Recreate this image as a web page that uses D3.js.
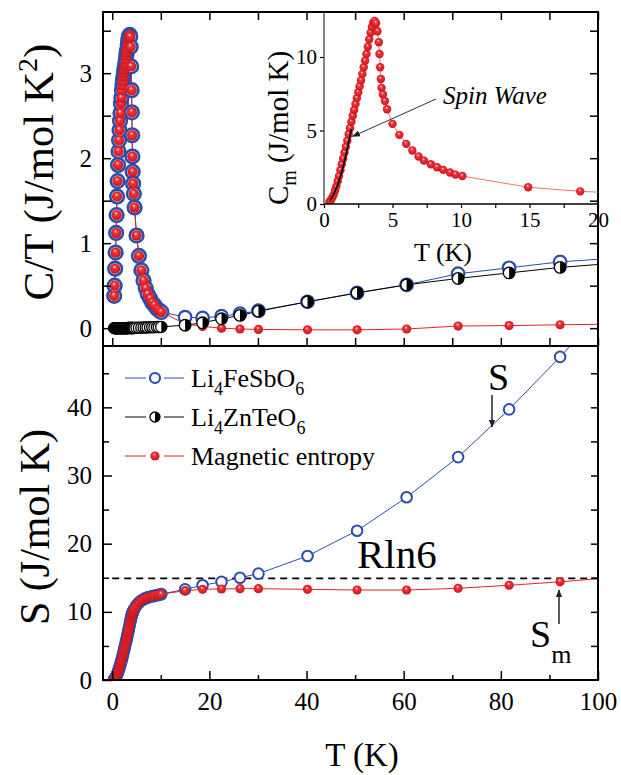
<!DOCTYPE html>
<html>
<head>
<meta charset="utf-8">
<script src="https://cdn.jsdelivr.net/npm/d3@7"></script>
<style>
  body { margin: 0; background: #fff; }
  text { font-family: "Liberation Serif", "Times New Roman", serif; fill: #000; }
</style>
</head>
<body>
<div id="chart"></div>
<script>
// ---- data ----
// low temperature sweep, shared by all the dense curves
const tLow = [0.4, 0.5, 0.6, 0.7, 0.8, 0.9, 1.0, 1.1, 1.2, 1.3, 1.4, 1.5, 1.6, 1.7, 1.8, 1.9, 2.0, 2.1, 2.2, 2.3,
  2.4, 2.5, 2.6, 2.7, 2.8, 2.9, 3.0, 3.1, 3.2, 3.3, 3.4, 3.5, 3.6, 3.7,
  3.8, 3.9, 4.0, 4.05, 4.1, 4.15, 4.2, 4.3, 4.45, 4.6, 5.0, 5.5, 6.0, 6.45, 6.9, 7.3, 7.8, 8.25, 8.7, 9.2, 9.6, 10.1];
// inset: magnetic heat capacity Cm (J/mol K)
const cmLow = [0.15, 0.25, 0.42, 0.62, 0.9, 1.2, 1.55, 1.9, 2.3, 2.7, 3.1, 3.5, 3.9, 4.3, 4.75, 5.15, 5.6, 6.0, 6.4, 6.8,
  7.2, 7.6, 8.0, 8.4, 8.85, 9.3, 9.75, 10.2, 10.7, 11.2, 11.65, 12.05, 12.35, 12.45,
  12.3, 11.75, 11.0, 10.2, 9.3, 8.5, 7.9, 7.45, 7.0, 6.45, 5.45, 4.7, 4.09, 3.64, 3.23, 2.95, 2.7, 2.5, 2.32, 2.14, 2.0, 1.9];
// C/T of Li4FeSbO6 (the magnetic part sits on top of it below 10 K)
const ctLow = [0.38, 0.5, 0.7, 0.89, 1.12, 1.33, 1.55, 1.73, 1.92, 2.08, 2.21, 2.33, 2.44, 2.53, 2.64, 2.71, 2.8, 2.86, 2.91, 2.96,
  3.0, 3.04, 3.08, 3.11, 3.16, 3.21, 3.25, 3.29, 3.34, 3.39, 3.42, 3.44, 3.45, 3.43,
  3.31, 3.08, 2.8, 2.54, 2.27, 2.02, 1.84, 1.70, 1.58, 1.42, 1.09, 0.85, 0.68, 0.56, 0.47, 0.40, 0.35, 0.30, 0.27, 0.23, 0.21, 0.19];
// C/T of Li4ZnTeO6
const ctZnLow = [0, 0, 0, 0, 0, 0, 0, 0, 0, 0, 0, 0, 0, 0, 0, 0, 0, 0, 0, 0,
  0, 0, 0, 0, 0, 0, 0, 0, 0.001, 0.001, 0.001, 0.001, 0.001, 0.001,
  0.002, 0.002, 0.002, 0.002, 0.002, 0.002, 0.002, 0.003, 0.003, 0.003, 0.004, 0.005, 0.006, 0.007, 0.008, 0.009, 0.01, 0.011, 0.012, 0.013, 0.014, 0.015];
// entropy below 10 K (S and Sm coincide)
const sLow = [0.1, 0.15, 0.25, 0.35, 0.5, 0.65, 0.8, 1.0, 1.2, 1.4, 1.6, 1.85, 2.1, 2.35, 2.6, 2.85, 3.1, 3.4, 3.7, 4.0,
  4.3, 4.6, 4.9, 5.2, 5.5, 5.8, 6.1, 6.45, 6.8, 7.1, 7.45, 7.8, 8.15, 8.5,
  8.8, 9.1, 9.4, 9.55, 9.7, 9.8, 9.9, 10.1, 10.3, 10.5, 10.95, 11.35, 11.65, 11.85, 12.0, 12.1, 12.2, 12.3, 12.35, 12.45, 12.5, 12.6];

// sparse points above 10 K
const tHigh = [15, 18.6, 22.5, 26.3, 30.1, 40.2, 50.4, 60.6, 71.2, 81.7, 92.2, 102.5];
const ctFeHigh = [0.13, 0.12, 0.14, 0.17, 0.205, 0.31, 0.415, 0.51, 0.64, 0.71, 0.78, 0.82];
const ctZnHigh = [0.035, 0.063, 0.11, 0.15, 0.2, 0.31, 0.415, 0.51, 0.585, 0.65, 0.715, 0.76];
const ctMagHigh = [0.05, 0.02, 0.0, -0.01, -0.015, -0.02, -0.02, -0.01, 0.025, 0.03, 0.04, 0.047];
const sFeHigh = [13.3, 13.9, 14.4, 15.0, 15.6, 18.2, 21.9, 26.8, 32.7, 39.7, 47.4, 55.5];
const sMagHigh = [13.1, 13.3, 13.35, 13.4, 13.4, 13.3, 13.2, 13.2, 13.45, 13.9, 14.4, 15.0];

const tInsetHigh = [14.9, 18.7, 22.5];
const cmInsetHigh = [1.14, 0.86, 0.7];

// spin wave fit in the inset
const spinT = [0.45, 0.7, 1.0, 1.3, 1.6, 2.0];
const spinC = [0.25, 0.65, 1.3, 2.2, 3.3, 5.1];

const rln6 = 14.9;

const xMajor = [0, 20, 40, 60, 80, 100];
const xMinor = [10, 30, 50, 70, 90];
const ctTicks = [0, 0.5, 1, 1.5, 2, 2.5, 3, 3.5];
const sMajor = [0, 10, 20, 30, 40];
const sMinor = [5, 15, 25, 35, 45];
const insetX = [0, 2.5, 5, 7.5, 10, 12.5, 15, 17.5, 20];
const insetY = [0, 5, 10];

// ---- layout ----
const W = 621, H = 775;
const frame = {left: 103, right: 598, top: 12, mid: 346, bottom: 680};
const ins = {left: 324, right: 598, top: 12, bottom: 204};

const blue = '#2d4ea8', red = '#e3232b';

const svg = d3.select('#chart').append('svg')
  .attr('width', W)
  .attr('height', H);

const defs = svg.append('defs');
const grad = defs.append('radialGradient')
  .attr('id', 'ball')
  .attr('cx', 0.5).attr('cy', 0.5).attr('r', 0.55)
  .attr('fx', 0.42).attr('fy', 0.3);
grad.append('stop').attr('offset', 0).attr('stop-color', '#fff0f0');
grad.append('stop').attr('offset', 0.3).attr('stop-color', '#f0383d');
grad.append('stop').attr('offset', 1).attr('stop-color', '#c80f18');

defs.append('marker')
  .attr('id', 'arrow')
  .attr('viewBox', '0 0 10 10')
  .attr('refX', 9).attr('refY', 5)
  .attr('markerWidth', 8).attr('markerHeight', 8)
  .attr('markerUnits', 'userSpaceOnUse')
  .attr('orient', 'auto')
  .append('path')
  .attr('d', 'M0,1 L10,5 L0,9 Z')
  .attr('fill', '#222');

function clip(id, x0, y0, x1, y1) {
  defs.append('clipPath').attr('id', id)
    .append('rect').attr('x', x0).attr('y', y0).attr('width', x1 - x0).attr('height', y1 - y0);
}
clip('clip-top', frame.left, frame.top, frame.right, frame.mid);
clip('clip-bot', frame.left, frame.mid, frame.right, frame.bottom);
clip('clip-ins', ins.left, ins.top, ins.right, ins.bottom);

// scales
const x = d3.scaleLinear().domain([-1.9, 100]).range([frame.left, frame.right]);
const yTop = d3.scaleLinear().domain([-0.21, 3.72]).range([frame.mid, frame.top]);
const yBot = d3.scaleLinear().domain([0, 49]).range([frame.bottom, frame.mid]);
const xIn = d3.scaleLinear().domain([0, 20]).range([ins.left, ins.right]);
const yIn = d3.scaleLinear().domain([0, 13.06]).range([ins.bottom, ins.top]);

// ---- mark helpers ----
function pts(xs, ys) { return d3.zip(xs, ys); }

function drawLine(g, data, sx, sy, color, width) {
  g.append('path')
    .datum(data)
    .attr('fill', 'none')
    .attr('stroke', color)
    .attr('stroke-width', width)
    .attr('d', d3.line().x(d => sx(d[0])).y(d => sy(d[1])));
}

function openCircles(g, data, sx, sy, r, sw) {
  g.append('g').selectAll('circle')
    .data(data)
    .join('circle')
    .attr('cx', d => sx(d[0]))
    .attr('cy', d => sy(d[1]))
    .attr('r', r)
    .attr('fill', '#fff')
    .attr('stroke', blue)
    .attr('stroke-width', sw);
}

function balls(g, data, sx, sy, r) {
  g.append('g').selectAll('circle')
    .data(data)
    .join('circle')
    .attr('cx', d => sx(d[0]))
    .attr('cy', d => sy(d[1]))
    .attr('r', r)
    .attr('fill', 'url(#ball)');
}

function halfFilled(g, data, sx, sy, r) {
  const m = g.append('g').selectAll('g')
    .data(data)
    .join('g')
    .attr('transform', d => `translate(${sx(d[0])},${sy(d[1])})`);
  m.append('circle').attr('r', r).attr('fill', '#fff').attr('stroke', '#000').attr('stroke-width', 1.3);
  m.append('path').attr('d', `M0,${-r}A${r},${r} 0 0 1 0,${r}Z`).attr('fill', '#000');
}

// ---- top panel: C/T ----
const topPanel = svg.append('g').attr('clip-path', 'url(#clip-top)');
const feCT = pts(tLow.concat(tHigh), ctLow.concat(ctFeHigh));
const znCT = pts(tLow.concat(tHigh), ctZnLow.concat(ctZnHigh));
const magCT = pts(tLow.concat(tHigh), ctLow.concat(ctMagHigh));

drawLine(topPanel, feCT, x, yTop, blue, 1);
drawLine(topPanel, znCT, x, yTop, '#000', 1);
drawLine(topPanel, magCT, x, yTop, red, 1);
openCircles(topPanel, pts(tLow, ctLow), x, yTop, 6.8, 2.6);
openCircles(topPanel, pts(tHigh, ctFeHigh), x, yTop, 6.3, 2.2);
balls(topPanel, pts(tLow, ctLow), x, yTop, 5.2);
balls(topPanel, pts(tHigh, ctMagHigh), x, yTop, 4.6);
halfFilled(topPanel, pts(tLow, ctZnLow), x, yTop, 5.6);
halfFilled(topPanel, pts(tHigh, ctZnHigh), x, yTop, 5.8);

// ---- bottom panel: entropy ----
const botPanel = svg.append('g').attr('clip-path', 'url(#clip-bot)');
botPanel.append('line')
  .attr('x1', x(0)).attr('x2', x(100))
  .attr('y1', yBot(rln6)).attr('y2', yBot(rln6))
  .attr('stroke', '#000').attr('stroke-width', 1.8)
  .attr('stroke-dasharray', '7,5');
drawLine(botPanel, pts(tLow.concat(tHigh), sLow.concat(sFeHigh)), x, yBot, blue, 1);
drawLine(botPanel, pts(tLow.concat(tHigh), sLow.concat(sMagHigh)), x, yBot, red, 1);
openCircles(botPanel, pts(tLow, sLow), x, yBot, 5.3, 2.2);
openCircles(botPanel, pts(tHigh, sFeHigh), x, yBot, 5.3, 2);
balls(botPanel, pts(tLow, sLow), x, yBot, 4.6);
balls(botPanel, pts(tHigh, sMagHigh), x, yBot, 4.6);

// ---- frame and axes ----
function styleAxis(g, size) {
  g.select('.domain').remove();
  g.selectAll('.tick line').attr('stroke', '#000').attr('stroke-width', 1.5);
  g.selectAll('.tick text')
    .attr('font-family', '"Liberation Serif", "Times New Roman", serif')
    .attr('font-size', size)
    .attr('fill', '#000');
}
function noLabel() { return ''; }

svg.append('g').attr('transform', `translate(0,${frame.top})`)
  .call(d3.axisTop(x).tickValues(xMajor.concat(xMinor)).tickSize(-8).tickFormat(noLabel))
  .call(styleAxis, 25);
svg.append('g').attr('transform', `translate(0,${frame.mid})`)
  .call(d3.axisBottom(x).tickValues(xMajor.concat(xMinor)).tickSize(-8).tickFormat(noLabel))
  .call(styleAxis, 25);
svg.append('g').attr('transform', `translate(${frame.left},0)`)
  .call(d3.axisLeft(yTop).tickValues(ctTicks).tickSize(-8).tickPadding(11)
    .tickFormat(d => Number.isInteger(d) ? d : ''))
  .call(styleAxis, 25);
svg.append('g').attr('transform', `translate(${frame.right},0)`)
  .call(d3.axisRight(yTop).tickValues(ctTicks).tickSize(-8).tickFormat(noLabel))
  .call(styleAxis, 25);

svg.append('g').attr('transform', `translate(0,${frame.bottom})`)
  .call(d3.axisBottom(x).tickValues(xMajor).tickSize(-9).tickPadding(12).tickFormat(d3.format('d')))
  .call(styleAxis, 25);
svg.append('g').attr('transform', `translate(0,${frame.bottom})`)
  .call(d3.axisBottom(x).tickValues(xMinor).tickSize(-5).tickFormat(noLabel))
  .call(styleAxis, 25);
svg.append('g').attr('transform', `translate(${frame.left},0)`)
  .call(d3.axisLeft(yBot).tickValues(sMajor).tickSize(-9).tickPadding(11).tickFormat(d3.format('d')))
  .call(styleAxis, 25);
svg.append('g').attr('transform', `translate(${frame.left},0)`)
  .call(d3.axisLeft(yBot).tickValues(sMinor).tickSize(-6).tickFormat(noLabel))
  .call(styleAxis, 25);
svg.append('g').attr('transform', `translate(${frame.right},0)`)
  .call(d3.axisRight(yBot).tickValues(sMajor.concat(sMinor).filter(d => d > 0)).tickSize(-7).tickFormat(noLabel))
  .call(styleAxis, 25);

svg.append('rect')
  .attr('x', frame.left).attr('y', frame.top)
  .attr('width', frame.right - frame.left).attr('height', frame.bottom - frame.top)
  .attr('fill', 'none').attr('stroke', '#000').attr('stroke-width', 2);
svg.append('line')
  .attr('x1', frame.left).attr('x2', frame.right)
  .attr('y1', frame.mid).attr('y2', frame.mid)
  .attr('stroke', '#000').attr('stroke-width', 2);

// ---- inset: Cm vs T ----
const insetPanel = svg.append('g').attr('clip-path', 'url(#clip-ins)');
drawLine(insetPanel, pts(tLow.concat(tInsetHigh), cmLow.concat(cmInsetHigh)), xIn, yIn, '#f07070', 1);
balls(insetPanel, pts(tLow, cmLow), xIn, yIn, 4.2);
balls(insetPanel, pts(tInsetHigh, cmInsetHigh), xIn, yIn, 4.2);
drawLine(insetPanel, pts(spinT, spinC), xIn, yIn, '#000', 1.6);

svg.append('g').attr('transform', `translate(0,${ins.bottom})`)
  .call(d3.axisBottom(xIn).tickValues(insetX).tickSize(4).tickPadding(4)
    .tickFormat(d => Number.isInteger(d / 5) ? d : ''))
  .call(styleAxis, 21)
  .call(g => g.selectAll('.tick line').attr('stroke-width', 1.2));
svg.append('g').attr('transform', `translate(${ins.left},0)`)
  .call(d3.axisLeft(yIn).tickValues(insetY).tickSize(4).tickPadding(3))
  .call(styleAxis, 21)
  .call(g => g.selectAll('.tick line').attr('stroke-width', 1.2));
svg.append('line')
  .attr('x1', ins.left).attr('x2', ins.right)
  .attr('y1', ins.bottom).attr('y2', ins.bottom)
  .attr('stroke', '#000').attr('stroke-width', 1.5);
svg.append('line')
  .attr('x1', ins.left).attr('x2', ins.left)
  .attr('y1', ins.top).attr('y2', ins.bottom)
  .attr('stroke', '#444').attr('stroke-width', 1.3);

// ---- titles ----
const tt = svg.append('text')
  .attr('transform', 'translate(53,172) rotate(-90)')
  .attr('text-anchor', 'middle')
  .attr('font-size', 43);
tt.append('tspan').text('C/T (J/mol K');
tt.append('tspan').attr('font-size', 28).attr('dy', -16).text('2');
tt.append('tspan').attr('dy', 16).text(')');

svg.append('text')
  .attr('transform', 'translate(49,527) rotate(-90)')
  .attr('text-anchor', 'middle')
  .attr('font-size', 42)
  .text('S (J/mol K)');

svg.append('text')
  .attr('x', 362).attr('y', 766)
  .attr('text-anchor', 'middle')
  .attr('font-size', 33)
  .text('T (K)');

const it = svg.append('text')
  .attr('transform', 'translate(288,128) rotate(-90)')
  .attr('text-anchor', 'middle')
  .attr('font-size', 29);
it.append('tspan').text('C');
it.append('tspan').attr('font-size', 20).attr('dy', 8).text('m');
it.append('tspan').attr('dy', -8).text(' (J/mol K)');

svg.append('text')
  .attr('x', 443).attr('y', 261)
  .attr('text-anchor', 'middle')
  .attr('font-size', 26)
  .text('T (K)');

// ---- annotations ----
svg.append('text')
  .attr('x', 443).attr('y', 104)
  .attr('font-size', 25)
  .attr('font-style', 'italic')
  .text('Spin Wave');
svg.append('line')
  .attr('x1', 436).attr('y1', 99)
  .attr('x2', xIn(2.1)).attr('y2', yIn(4.6))
  .attr('stroke', '#333').attr('stroke-width', 1)
  .attr('marker-end', 'url(#arrow)');

svg.append('text')
  .attr('x', 357).attr('y', 568)
  .attr('font-size', 41)
  .text('Rln6');

svg.append('text')
  .attr('x', 488).attr('y', 390)
  .attr('font-size', 38)
  .text('S');
svg.append('line')
  .attr('x1', 492).attr('y1', 395).attr('x2', 492).attr('y2', 427)
  .attr('stroke', '#000').attr('stroke-width', 1.3)
  .attr('marker-end', 'url(#arrow)');

const sm = svg.append('text')
  .attr('x', 530).attr('y', 647)
  .attr('font-size', 38);
sm.append('tspan').text('S');
sm.append('tspan').attr('font-size', 26).attr('dy', 16).text('m');
svg.append('line')
  .attr('x1', 559).attr('y1', 624).attr('x2', 559).attr('y2', 590)
  .attr('stroke', '#000').attr('stroke-width', 1.3)
  .attr('marker-end', 'url(#arrow)');

// ---- legend ----
const legendRows = [
  {name: ['Li', '4', 'FeSbO', '6'], kind: 'open', color: blue},
  {name: ['Li', '4', 'ZnTeO', '6'], kind: 'half', color: '#000'},
  {name: ['Magnetic entropy'], kind: 'ball', color: red}
];
const legend = svg.append('g');
legendRows.forEach((row, i) => {
  const y = 378 + i * 39;
  const g = legend.append('g').attr('transform', `translate(0,${y})`);
  g.append('line').attr('x1', 125).attr('x2', 146).attr('stroke', row.color).attr('stroke-width', 1);
  g.append('line').attr('x1', 164).attr('x2', 184).attr('stroke', row.color).attr('stroke-width', 1);
  const pt = [[155, 0]];
  const id = d => d;
  if (row.kind === 'open') openCircles(g, pt, id, id, 5, 2.2);
  if (row.kind === 'half') halfFilled(g, pt, id, id, 5);
  if (row.kind === 'ball') balls(g, pt, id, id, 4.6);
  const t = g.append('text').attr('x', 191).attr('y', 9).attr('font-size', 26);
  row.name.forEach((s, k) => {
    const isSub = k % 2 === 1;
    t.append('tspan')
      .attr('font-size', isSub ? 18 : 26)
      .attr('dy', isSub ? 8 : (k > 0 ? -8 : 0))
      .text(s);
  });
});
</script>
</body>
</html>
